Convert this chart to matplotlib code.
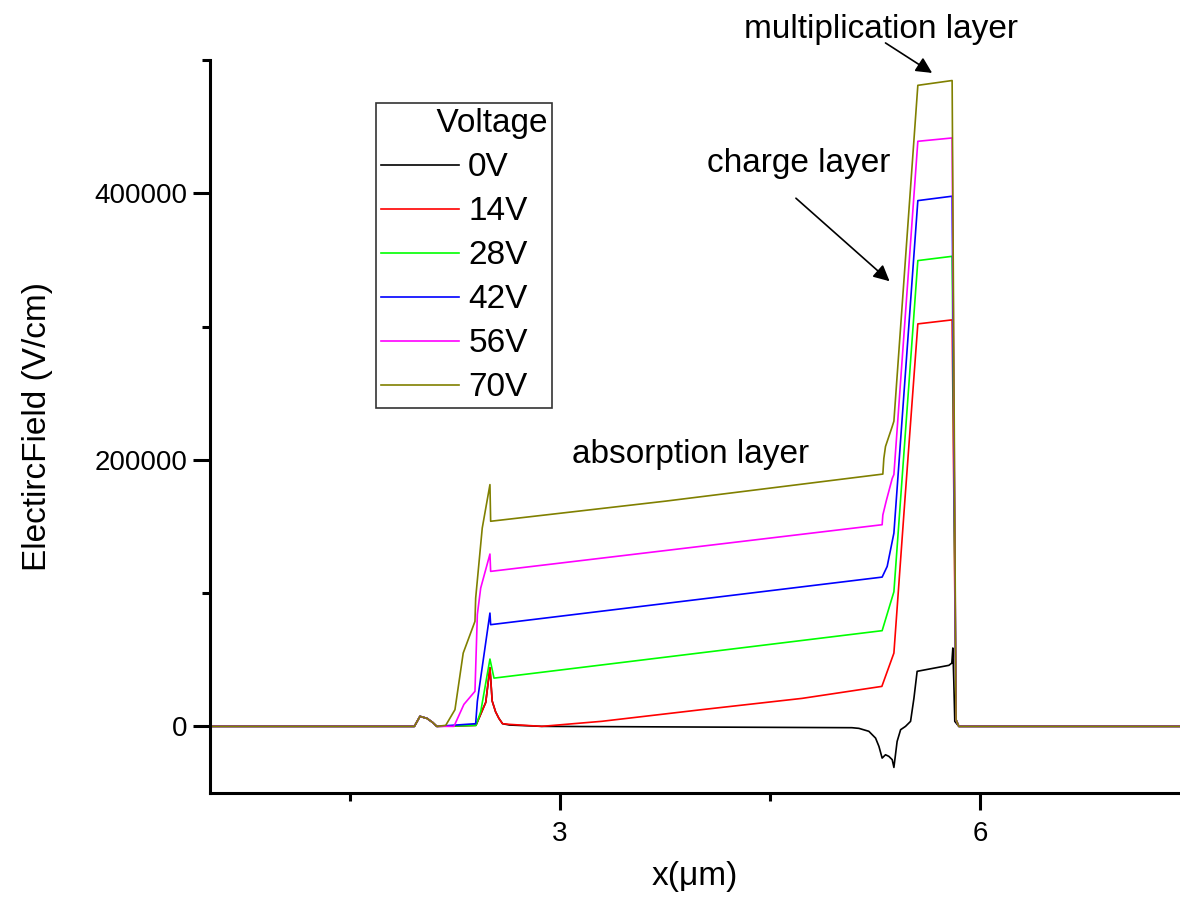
import numpy as np
import matplotlib
matplotlib.use("Agg")
import matplotlib.pyplot as plt
from matplotlib.ticker import MultipleLocator

plt.rcParams['font.family'] = ['Liberation Sans', 'DejaVu Sans']

# electric field profiles, x in um, E in V/cm
x_0v = [0.5, 1.96, 2.0, 2.05, 2.09, 2.12, 2.40, 2.47, 2.50, 2.516, 2.54, 2.564, 2.59, 2.64, 2.87,
        5.086, 5.136, 5.207, 5.255, 5.279, 5.302, 5.326, 5.35, 5.374, 5.386, 5.409, 5.434, 5.469,
        5.505, 5.529, 5.552, 5.779, 5.80, 5.807, 5.814, 5.821, 5.85, 7.5]
e_0v = [0, 0, 7500, 6000, 3000, 0, 800, 18000, 44000, 19000, 11000, 6000, 2000, 1000, 0,
        -1000, -1500, -3700, -8800, -15000, -23800, -21300, -22500, -25000, -30800, -11300, -2500, 0,
        3750, 21000, 41300, 45800, 47500, 58800, 33800, 3750, 0, 0]

x_14v = [0.5, 1.96, 2.0, 2.05, 2.09, 2.12, 2.40, 2.47, 2.50, 2.516, 2.54, 2.564, 2.59, 2.64, 2.87,
         3.3, 4.01, 4.73, 5.30, 5.386, 5.464, 5.557, 5.802, 5.83, 5.85, 7.5]
e_14v = [0, 0, 7500, 6000, 3000, 0, 800, 18000, 44000, 19000, 11000, 6000, 2000, 1500, 0,
         3800, 12500, 21000, 30000, 55000, 169000, 302000, 305000, 5000, 0, 0]

x_28v = [0.5, 1.96, 2.0, 2.05, 2.09, 2.12, 2.40, 2.434, 2.50, 2.529, 5.302, 5.386, 5.557, 5.802,
         5.83, 5.85, 7.5]
e_28v = [0, 0, 7500, 6000, 3000, 0, 750, 11000, 50500, 36200, 71800, 101000, 349500, 352700,
         5000, 0, 0]

x_42v = [0.5, 1.96, 2.0, 2.05, 2.09, 2.12, 2.398, 2.41, 2.50, 2.505, 5.302, 5.338, 5.386, 5.557,
         5.802, 5.83, 5.85, 7.5]
e_42v = [0, 0, 7500, 6000, 3000, 0, 2000, 18800, 85000, 76300, 112000, 120000, 145000, 394500,
         397800, 5000, 0, 0]

x_56v = [0.5, 1.96, 2.0, 2.05, 2.09, 2.12, 2.243, 2.314, 2.393, 2.41, 2.434, 2.50, 2.505, 5.302,
         5.307, 5.331, 5.374, 5.386, 5.557, 5.802, 5.83, 5.85, 7.5]
e_56v = [0, 0, 7500, 6000, 3000, 0, 0, 16500, 26300, 84000, 103800, 129300, 116300, 151300,
         158600, 169000, 186000, 189000, 439000, 441500, 5000, 0, 0]

x_70v = [0.5, 1.96, 2.0, 2.05, 2.09, 2.12, 2.184, 2.25, 2.309, 2.393, 2.398, 2.445, 2.50, 2.505,
         3.755, 5.307, 5.314, 5.326, 5.374, 5.386, 5.557, 5.802, 5.83, 5.85, 7.5]
e_70v = [0, 0, 7500, 6000, 3000, 0, 750, 12500, 55000, 78800, 96200, 148800, 181400, 153900,
         169000, 189300, 201000, 210000, 225000, 229000, 481000, 484600, 5000, 0, 0]

labels = ['0V', '14V', '28V', '42V', '56V', '70V']
colors = ['#000000', '#ff0000', '#00ff00', '#0000ff', '#ff00ff', '#808000']
series = [(x_0v, e_0v), (x_14v, e_14v), (x_28v, e_28v),
          (x_42v, e_42v), (x_56v, e_56v), (x_70v, e_70v)]

fig = plt.figure(figsize=(11.8, 9.02), dpi=100)
ax = fig.add_axes([210 / 1180, 109 / 902, 970 / 1180, 733 / 902])

for (xs, es), lab, c in zip(series, labels, colors):
    ax.plot(xs, es, color=c, lw=1.2, label=lab)

ax.set_xlim(0.5, 7.43)
ax.set_ylim(-50000, 500000)

ax.xaxis.set_major_locator(MultipleLocator(3))
ax.xaxis.set_minor_locator(MultipleLocator(1.5))
ax.yaxis.set_major_locator(MultipleLocator(200000))
ax.yaxis.set_minor_locator(MultipleLocator(100000))

for side in ['top', 'right']:
    ax.spines[side].set_visible(False)
for side in ['left', 'bottom']:
    ax.spines[side].set_linewidth(2.2)

ax.tick_params(which='major', direction='out', length=12, width=2.2, labelsize=20, pad=4)
ax.tick_params(which='minor', direction='out', length=6, width=2.2)
ax.tick_params(axis='x', which='major', pad=8)

ax.set_xlabel('x(\u03bcm)', fontsize=24, labelpad=10)
ax.set_ylabel('ElectircField (V/cm)', fontsize=24, labelpad=30)

# leading spaces push the title to the right like in the original legend
leg = ax.legend(title='      Voltage', loc='upper left', bbox_to_anchor=(0.171, 0.941),
                borderaxespad=0, fontsize=24, title_fontsize=24, frameon=True,
                fancybox=False, edgecolor='black', handlelength=2.35, handletextpad=0.27,
                labelspacing=0.39, borderpad=0.15, alignment='left')
leg.get_frame().set_linewidth(1.2)

arrow = dict(arrowstyle='-|>', color='black', lw=1.2, mutation_scale=24, shrinkA=0, shrinkB=0)
ax.text(5.293, 523000, 'multiplication layer', fontsize=24, ha='center', va='center', clip_on=False)
ax.annotate('', xy=(5.659, 490300), xytext=(5.326, 512800), arrowprops=arrow,
            annotation_clip=False)
ax.text(4.707, 422500, 'charge layer', fontsize=24, ha='center', va='center')
ax.annotate('', xy=(5.355, 334000), xytext=(4.686, 396300), arrowprops=arrow)
ax.text(3.936, 204100, 'absorption layer', fontsize=24, ha='center', va='center')

fig.savefig('out.png', dpi=100)
